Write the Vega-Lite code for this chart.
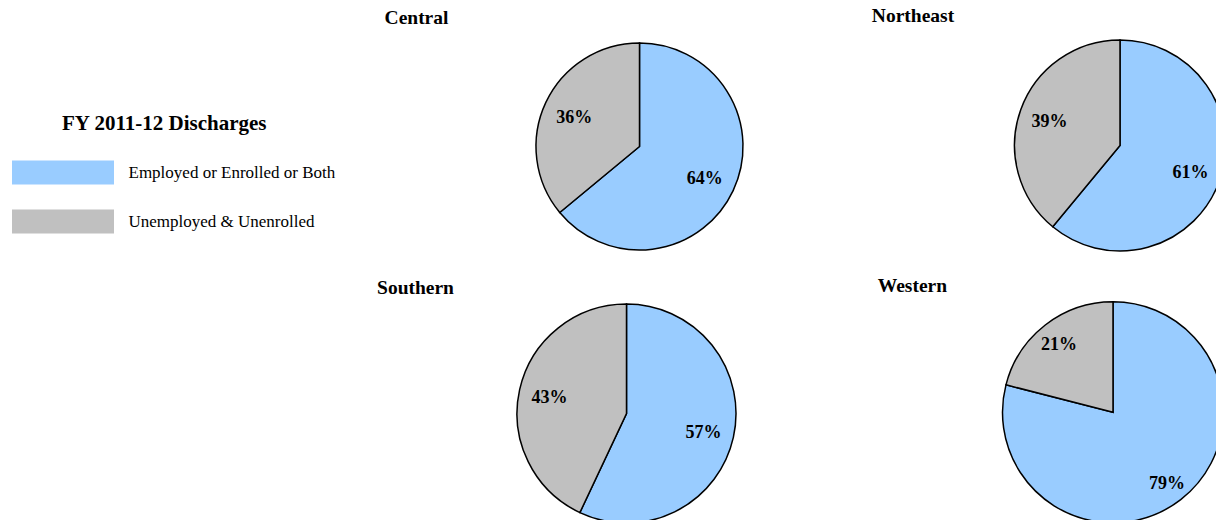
{
  "$schema": "https://vega.github.io/schema/vega-lite/v6.json",
  "width": 1216,
  "height": 520,
  "autosize": {"type": "none"},
  "padding": 0,
  "background": "white",
  "config": {"view": {"stroke": null}, "font": "Liberation Serif"},
  "data": {
    "values": [
      {"region": "Central", "status": "Employed or Enrolled or Both", "pct": 0.64},
      {"region": "Central", "status": "Unemployed & Unenrolled", "pct": 0.36},
      {"region": "Northeast", "status": "Employed or Enrolled or Both", "pct": 0.61},
      {"region": "Northeast", "status": "Unemployed & Unenrolled", "pct": 0.39},
      {"region": "Southern", "status": "Employed or Enrolled or Both", "pct": 0.57},
      {"region": "Southern", "status": "Unemployed & Unenrolled", "pct": 0.43},
      {"region": "Western", "status": "Employed or Enrolled or Both", "pct": 0.79},
      {"region": "Western", "status": "Unemployed & Unenrolled", "pct": 0.21}
    ]
  },
  "layer": [
    {
      "transform": [
        {"filter": {"field": "region", "oneOf": ["Central", "Southern"]}},
        {"stack": "pct", "groupby": ["region"], "sort": [{"field": "status", "order": "ascending"}], "as": ["p0", "p1"]}
      ],
      "mark": {"type": "arc", "stroke": "#000000", "strokeWidth": 1.5},
      "encoding": {
        "x": {"field": "region", "type": "nominal", "axis": null, "scale": {"type": "point", "domain": ["Central", "Southern"], "range": [639.5, 626.5], "padding": 0}},
        "y": {"field": "region", "type": "nominal", "axis": null, "scale": {"type": "point", "domain": ["Central", "Southern"], "range": [146.5, 413.5], "padding": 0}},
        "theta": {"field": "p0", "type": "quantitative", "scale": {"domain": [0, 1]}},
        "theta2": {"field": "p1"},
        "radius": {"field": "region", "type": "nominal", "scale": {"type": "point", "domain": ["Central", "Southern"], "range": [103.5, 109.5], "padding": 0}},
        "radius2": {"value": 0},
        "color": {
          "field": "status", "type": "nominal",
          "scale": {"domain": ["Employed or Enrolled or Both", "Unemployed & Unenrolled"], "range": ["#99CCFF", "#C0C0C0"]},
          "legend": {
            "orient": "none", "legendX": 62, "legendY": 113, "padding": 0,
            "title": "FY 2011-12 Discharges", "titleFont": "Liberation Serif", "titleFontSize": 21, "titleFontWeight": "bold", "titleColor": "#000000", "titlePadding": 30, "titleAnchor": "start", "titleLimit": 0,
            "labelFont": "Liberation Serif", "labelFontSize": 17, "labelColor": "#000000", "labelLimit": 0, "labelOffset": 57,
            "symbolType": "M-51,-12H51V12H-51Z", "symbolSize": 4, "symbolStrokeWidth": 0, "symbolOpacity": 1, "symbolOffset": -7.5,
            "rowPadding": 24
          }
        }
      }
    },
    {
      "transform": [{"filter": {"field": "region", "oneOf": ["Central", "Southern"]}}],
      "mark": {"type": "text", "font": "Liberation Serif", "fontSize": 18, "fontWeight": "bold", "color": "#000000", "align": "center", "baseline": "middle", "dy": 2},
      "encoding": {
        "x": {"field": "region", "type": "nominal", "axis": null, "scale": {"type": "point", "domain": ["Central", "Southern"], "range": [639.5, 626.5], "padding": 0}},
        "y": {"field": "region", "type": "nominal", "axis": null, "scale": {"type": "point", "domain": ["Central", "Southern"], "range": [146.5, 413.5], "padding": 0}},
        "theta": {"field": "pct", "type": "quantitative", "stack": true, "scale": {"domain": [0, 1]}},
        "radius": {"field": "region", "type": "nominal", "scale": {"type": "point", "domain": ["Central", "Southern"], "range": [72, 79], "padding": 0}},
        "detail": {"field": "status"},
        "order": {"field": "status", "sort": "ascending"},
        "text": {"field": "pct", "type": "quantitative", "format": ".0%"}
      }
    },
    {
      "transform": [
        {"filter": {"field": "region", "oneOf": ["Central", "Southern"]}},
        {"filter": {"field": "status", "equal": "Employed or Enrolled or Both"}}
      ],
      "mark": {"type": "text", "font": "Liberation Serif", "fontSize": 19.5, "fontWeight": "bold", "color": "#000000", "align": "center", "baseline": "alphabetic"},
      "encoding": {
        "x": {"field": "region", "type": "nominal", "axis": null, "scale": {"type": "point", "domain": ["Central", "Southern"], "range": [416.5, 415.5], "padding": 0}},
        "y": {"field": "region", "type": "nominal", "axis": null, "scale": {"type": "point", "domain": ["Central", "Southern"], "range": [24, 294], "padding": 0}},
        "text": {"field": "region"}
      }
    },
    {
      "transform": [
        {"filter": {"field": "region", "oneOf": ["Northeast", "Western"]}},
        {"stack": "pct", "groupby": ["region"], "sort": [{"field": "status", "order": "ascending"}], "as": ["p0", "p1"]}
      ],
      "mark": {"type": "arc", "stroke": "#000000", "strokeWidth": 1.5},
      "encoding": {
        "x": {"field": "region", "type": "nominal", "axis": null, "scale": {"type": "point", "domain": ["Northeast", "Western"], "range": [1120, 1113], "padding": 0}},
        "y": {"field": "region", "type": "nominal", "axis": null, "scale": {"type": "point", "domain": ["Northeast", "Western"], "range": [145.5, 412.3], "padding": 0}},
        "theta": {"field": "p0", "type": "quantitative", "scale": {"domain": [0, 1]}},
        "theta2": {"field": "p1"},
        "radius": {"field": "region", "type": "nominal", "scale": {"type": "point", "domain": ["Northeast", "Western"], "range": [105.5, 110.5], "padding": 0}},
        "radius2": {"value": 0},
        "color": {
          "field": "status", "type": "nominal",
          "scale": {"domain": ["Employed or Enrolled or Both", "Unemployed & Unenrolled"], "range": ["#99CCFF", "#C0C0C0"]}
        }
      }
    },
    {
      "transform": [{"filter": {"field": "region", "oneOf": ["Northeast", "Western"]}}],
      "mark": {"type": "text", "font": "Liberation Serif", "fontSize": 18, "fontWeight": "bold", "color": "#000000", "align": "center", "baseline": "middle", "dy": 2},
      "encoding": {
        "x": {"field": "region", "type": "nominal", "axis": null, "scale": {"type": "point", "domain": ["Northeast", "Western"], "range": [1120, 1113], "padding": 0}},
        "y": {"field": "region", "type": "nominal", "axis": null, "scale": {"type": "point", "domain": ["Northeast", "Western"], "range": [145.5, 412.3], "padding": 0}},
        "theta": {"field": "pct", "type": "quantitative", "stack": true, "scale": {"domain": [0, 1]}},
        "radius": {"field": "region", "type": "nominal", "scale": {"type": "point", "domain": ["Northeast", "Western"], "range": [75, 88], "padding": 0}},
        "detail": {"field": "status"},
        "order": {"field": "status", "sort": "ascending"},
        "text": {"field": "pct", "type": "quantitative", "format": ".0%"}
      }
    },
    {
      "transform": [
        {"filter": {"field": "region", "oneOf": ["Northeast", "Western"]}},
        {"filter": {"field": "status", "equal": "Employed or Enrolled or Both"}}
      ],
      "mark": {"type": "text", "font": "Liberation Serif", "fontSize": 19.5, "fontWeight": "bold", "color": "#000000", "align": "center", "baseline": "alphabetic"},
      "encoding": {
        "x": {"field": "region", "type": "nominal", "axis": null, "scale": {"type": "point", "domain": ["Northeast", "Western"], "range": [913, 912.4], "padding": 0}},
        "y": {"field": "region", "type": "nominal", "axis": null, "scale": {"type": "point", "domain": ["Northeast", "Western"], "range": [22, 292], "padding": 0}},
        "text": {"field": "region"}
      }
    }
  ],
  "resolve": {"scale": {"x": "independent", "y": "independent", "radius": "independent"}}
}
